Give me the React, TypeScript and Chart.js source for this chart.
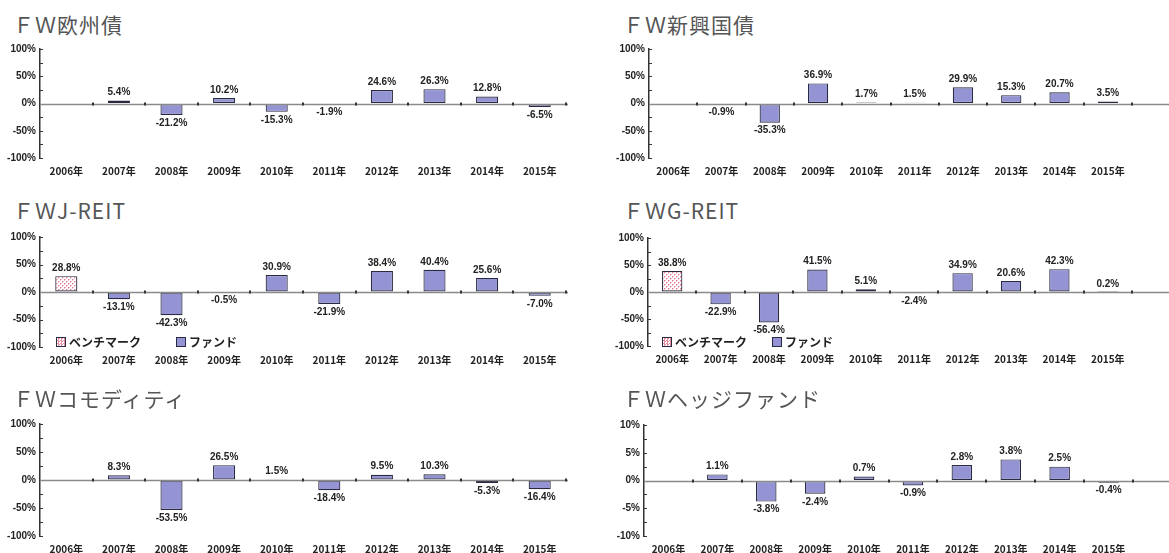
import React, { useEffect, useRef } from "react";
import { Chart, registerables } from "chart.js";

Chart.register(...registerables);

const years = ["2006年", "2007年", "2008年", "2009年", "2010年", "2011年", "2012年", "2013年", "2014年", "2015年"];

const euroBond = [null, 5.4, -21.2, 10.2, -15.3, -1.9, 24.6, 26.3, 12.8, -6.5];
const emBond = [null, -0.9, -35.3, 36.9, 1.7, 1.5, 29.9, 15.3, 20.7, 3.5];
const jreitBench = [28.8, null, null, null, null, null, null, null, null, null];
const jreitFund = [null, -13.1, -42.3, -0.5, 30.9, -21.9, 38.4, 40.4, 25.6, -7.0];
const greitBench = [38.8, null, null, null, null, null, null, null, null, null];
const greitFund = [null, -22.9, -56.4, 41.5, 5.1, -2.4, 34.9, 20.6, 42.3, 0.2];
const commodity = [null, 8.3, -53.5, 26.5, 1.5, -18.4, 9.5, 10.3, -5.3, -16.4];
const hedge = [null, 1.1, -3.8, -2.4, 0.7, -0.9, 2.8, 3.8, 2.5, -0.4];

const titles = ["ＦＷ欧州債", "ＦＷ新興国債", "ＦＷJ-REIT", "ＦＷG-REIT", "ＦＷコモディティ", "ＦＷヘッジファンド"];
const legendLabels = ["ベンチマーク", "ファンド"];

const FUND_COLOR = "#9494d4";
const BORDER = "#2a2a40";
const TXT = "#222";
const NUM_FONT = "'Liberation Sans Narrow', 'Liberation Sans', Arial, sans-serif";
const JP_FONT = "'Noto Sans CJK JP', 'Noto Sans', sans-serif";

function makePattern(): CanvasPattern | string {
  const c = document.createElement("canvas");
  c.width = 4;
  c.height = 4;
  const ctx = c.getContext("2d");
  if (!ctx) return "#f4c8d4";
  ctx.fillStyle = "#ffffff";
  ctx.fillRect(0, 0, 4, 4);
  ctx.fillStyle = "#e07890";
  ctx.fillRect(0, 0, 1, 1);
  ctx.fillRect(2, 2, 1, 1);
  ctx.fillStyle = "#f4c0cc";
  ctx.fillRect(1, 0, 1, 1);
  ctx.fillRect(0, 1, 1, 1);
  ctx.fillRect(3, 2, 1, 1);
  ctx.fillRect(2, 3, 1, 1);
  return ctx.createPattern(c, "repeat") as CanvasPattern;
}

type PanelDef = {
  title: string;
  left: number;
  right: number;
  top: number;
  bottom: number;
  lineExtend: number;
  fund: (number | null)[];
  bench?: (number | null)[];
  range: number;
  titleX: number;
  titleY: number;
  legend?: { bx: number; fx: number; y: number };
};

const panels: PanelDef[] = [
  { title: titles[0], left: 40, right: 566, top: 49, bottom: 158, lineExtend: 2, fund: euroBond, range: 100, titleX: 13, titleY: 24 },
  { title: titles[1], left: 649, right: 1132, top: 49, bottom: 158, lineExtend: 40, fund: emBond, range: 100, titleX: 623, titleY: 24 },
  { title: titles[2], left: 40, right: 566, top: 237, bottom: 347, lineExtend: 2, fund: jreitFund, bench: jreitBench, range: 100, titleX: 13, titleY: 210, legend: { bx: 56, fx: 176, y: 342 } },
  { title: titles[3], left: 648, right: 1132, top: 238, bottom: 346, lineExtend: 40, fund: greitFund, bench: greitBench, range: 100, titleX: 623, titleY: 210, legend: { bx: 662, fx: 772, y: 342 } },
  { title: titles[4], left: 40, right: 566, top: 424, bottom: 536, lineExtend: 2, fund: commodity, range: 100, titleX: 13, titleY: 398 },
  { title: titles[5], left: 644, right: 1133, top: 425, bottom: 536, lineExtend: 40, fund: hedge, range: 10, titleX: 623, titleY: 398 },
];

const AXIS_W = 40;
const PAD_TOP = 10;
const XLAB_H = 28;

function Panel({ p }: { p: PanelDef }) {
  const ref = useRef<HTMLCanvasElement | null>(null);
  const W = p.right - p.left + AXIS_W + p.lineExtend;
  const H = p.bottom - p.top + PAD_TOP + XLAB_H;

  useEffect(() => {
    if (!ref.current) return;
    const pattern = makePattern();
    const step = p.range / 4;

    const decor = {
      id: "decor",
      afterDatasetsDraw(chart: any) {
        const ctx = chart.ctx;
        const area = chart.chartArea;
        const y = chart.scales.y;
        const x = chart.scales.x;
        const zy = Math.round(y.getPixelForValue(0)) + 0.5;
        ctx.save();
        // inward y ticks
        ctx.strokeStyle = "#333";
        ctx.lineWidth = 1;
        for (let v = -p.range; v <= p.range + 1e-9; v += step) {
          const py = Math.round(y.getPixelForValue(v)) + 0.5;
          ctx.beginPath();
          ctx.moveTo(area.left, py);
          ctx.lineTo(area.left + 3, py);
          ctx.stroke();
        }
        // zero line
        ctx.strokeStyle = "#8a8a8a";
        ctx.lineWidth = 1.5;
        ctx.beginPath();
        ctx.moveTo(area.left, zy);
        ctx.lineTo(area.right + p.lineExtend, zy);
        ctx.stroke();
        // category boundary ticks
        ctx.fillStyle = "#333";
        const n = chart.data.labels.length;
        const w = x.getPixelForValue(1) - x.getPixelForValue(0);
        for (let i = 0; i < n; i++) {
          const px = x.getPixelForValue(i) + w / 2;
          ctx.fillRect(Math.round(px) - 1, zy - 2, 2, 3);
        }
        // value labels
        ctx.fillStyle = TXT;
        ctx.font = "bold 10px " + NUM_FONT;
        ctx.textAlign = "center";
        chart.data.datasets.forEach((ds: any, di: number) => {
          const meta = chart.getDatasetMeta(di);
          ds.data.forEach((v: number | null, i: number) => {
            if (v === null || v === undefined) return;
            const el = meta.data[i];
            if (!el) return;
            const txt = v.toFixed(1) + "%";
            if (v >= 0) {
              ctx.textBaseline = "bottom";
              ctx.fillText(txt, el.x, Math.min(el.y, zy) - 3);
            } else {
              ctx.textBaseline = "top";
              ctx.fillText(txt, el.x, Math.max(el.y, zy) + 3);
            }
          });
        });
        ctx.restore();
      },
    };

    const datasets: any[] = [];
    if (p.bench) {
      datasets.push({
        label: legendLabels[0],
        data: p.bench,
        backgroundColor: pattern,
        borderColor: BORDER,
        borderWidth: 1.2,
        borderSkipped: false,
        grouped: false,
        barPercentage: 0.42,
        categoryPercentage: 1,
      });
    }
    datasets.push({
      label: legendLabels[1],
      data: p.fund,
      backgroundColor: FUND_COLOR,
      borderColor: BORDER,
      borderWidth: 1.2,
      borderSkipped: false,
      grouped: false,
      barPercentage: 0.42,
      categoryPercentage: 1,
    });

    const chart = new Chart(ref.current, {
      type: "bar",
      data: { labels: years, datasets },
      options: {
        responsive: false,
        animation: false,
        devicePixelRatio: 1,
        layout: { padding: { left: 0, right: p.lineExtend, top: PAD_TOP, bottom: 0 } },
        plugins: { legend: { display: false }, tooltip: { enabled: false } },
        scales: {
          x: {
            grid: { display: false, drawTicks: false, tickLength: 0 },
            border: { display: false },
            afterFit: (s: any) => {
              s.height = XLAB_H;
            },
            ticks: {
              color: TXT,
              font: { family: JP_FONT, size: 10, weight: "bold" },
              maxRotation: 0,
              autoSkip: false,
              padding: 7,
            },
          },
          y: {
            min: -p.range,
            max: p.range,
            afterFit: (s: any) => {
              s.width = AXIS_W;
            },
            afterBuildTicks: (s: any) => {
              const t = [];
              for (let v = -p.range; v <= p.range + 1e-9; v += step) t.push({ value: v });
              s.ticks = t;
            },
            grid: { display: true, drawOnChartArea: false, drawTicks: false },
            border: { display: true, color: "#333", width: 1.5 },
            ticks: {
              color: TXT,
              padding: 4,
              font: { family: NUM_FONT, size: 10, weight: "bold" },
              callback: (v: any) => {
                const n = Number(v);
                return Math.abs(n % (p.range / 2)) < 1e-9 ? n + "%" : "";
              },
            },
          },
        },
      },
      plugins: [decor],
    } as any);
    return () => chart.destroy();
  }, []);

  return (
    <>
      <div
        style={{
          position: "absolute",
          left: p.titleX,
          top: p.titleY - 13,
          fontFamily: JP_FONT,
          fontSize: 21,
          lineHeight: "26px",
          color: "#555",
          whiteSpace: "nowrap",
          letterSpacing: 1,
        }}
      >
        {p.title}
      </div>
      <canvas
        ref={ref}
        width={W}
        height={H}
        style={{ position: "absolute", left: p.left - AXIS_W, top: p.top - PAD_TOP, width: W, height: H }}
      />
      {p.legend && (
        <>
          <Swatch x={p.legend.bx} y={p.legend.y} bench />
          <div style={legendText(p.legend.bx + 13, p.legend.y)}>{legendLabels[0]}</div>
          <Swatch x={p.legend.fx} y={p.legend.y} />
          <div style={legendText(p.legend.fx + 13, p.legend.y)}>{legendLabels[1]}</div>
        </>
      )}
    </>
  );
}

function legendText(x: number, y: number): React.CSSProperties {
  return {
    position: "absolute",
    left: x,
    top: y - 8,
    fontFamily: JP_FONT,
    fontSize: 12,
    lineHeight: "16px",
    fontWeight: 700,
    color: TXT,
    whiteSpace: "nowrap",
  };
}

function Swatch({ x, y, bench }: { x: number; y: number; bench?: boolean }) {
  return (
    <div
      style={{
        position: "absolute",
        left: x,
        top: y - 5,
        width: 8,
        height: 8,
        border: "1px solid " + BORDER,
        background: bench
          ? "repeating-conic-gradient(#e58ca0 0% 25%, #ffffff 0% 50%) 0 0 / 3px 3px"
          : FUND_COLOR,
      }}
    />
  );
}

export default function App() {
  return (
    <div style={{ position: "absolute", left: 0, top: 0, width: 1169, height: 553, background: "#fff", overflow: "hidden" }}>
      {panels.map((p, i) => (
        <Panel key={i} p={p} />
      ))}
    </div>
  );
}
